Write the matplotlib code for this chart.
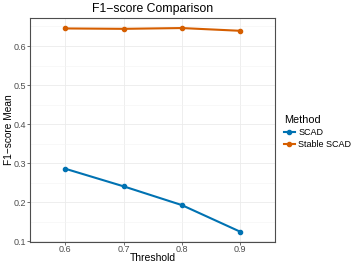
import matplotlib.pyplot as plt
import numpy as np

plt.rcParams['font.family'] = ['Liberation Sans', 'DejaVu Sans']

# values
thresholds = ['0.6', '0.7', '0.8', '0.9']
scad = [0.286, 0.241, 0.193, 0.125]
stable_scad = [0.645, 0.644, 0.646, 0.639]

fig = plt.figure(figsize=(3.57, 2.68), dpi=100)
ax = fig.add_axes([30.3 / 357, 1 - 242 / 268, (275 - 30.3) / 357, (242 - 17.7) / 268])

x = np.arange(len(thresholds))
ax.plot(x, scad, color='#0072B2', lw=1.5, marker='o', ms=3, label='SCAD', zorder=3)
ax.plot(x, stable_scad, color='#D55E00', lw=1.5, marker='o', ms=3, label='Stable SCAD', zorder=3)

ax.set_xlim(-0.6, 3.6)
ax.set_ylim(0.0985, 0.6725)
ax.set_xticks(x)
ax.set_xticklabels(thresholds)
ax.set_yticks([0.1, 0.2, 0.3, 0.4, 0.5, 0.6])
ax.set_yticks(np.arange(0.15, 0.7, 0.1), minor=True)
ax.grid(which='major', color='#EBEBEB', lw=0.6)
ax.grid(which='minor', color='#F4F4F4', lw=0.4)
ax.set_axisbelow(True)
ax.tick_params(which='major', length=2, width=0.5, color='#333333', labelsize=6.5, labelcolor='#4D4D4D', pad=1)
ax.tick_params(axis='x', which='major', pad=0.5)
ax.tick_params(which='minor', length=0)
for s in ax.spines.values():
    s.set_color('#4D4D4D')
    s.set_linewidth(0.8)

ax.set_title('F1\u2212score Comparison', fontsize=8.8, pad=4)
ax.set_xlabel('Threshold', fontsize=7.5)
ax.set_ylabel('F1\u2212score Mean', fontsize=7.3)
ax.yaxis.set_label_coords(-0.068, 0.5)
ax.xaxis.set_label_coords(0.5, -0.05)

leg = ax.legend(title='Method', loc='center left', bbox_to_anchor=(1.01, 0.49), frameon=False,
                fontsize=6.5, title_fontsize=7.8, handlelength=1.2, handletextpad=0.4,
                labelspacing=0.3, borderaxespad=0.3, markerscale=1)
leg._legend_box.align = 'left'

fig.savefig('out.png', dpi=100)
